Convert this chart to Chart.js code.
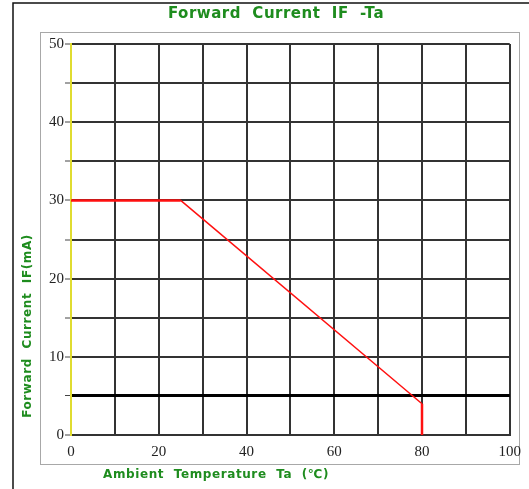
<!DOCTYPE html>
<html>
<head>
<meta charset="utf-8">
<script src="https://cdn.jsdelivr.net/npm/chart.js@4"></script>
<style>
  html, body { margin: 0; padding: 0; background: #fff; }
  #wrap { position: relative; width: 529px; height: 489px; }
</style>
</head>
<body>
<div id="wrap"><canvas id="ifta" width="529" height="489"></canvas></div>
<script>
// ── Data: derating curve IF vs Ta ─────────────────────────────────────
const tempTa    = [0, 25, 80, 80];     // °C
const currentIF = [30, 30, 4, 0];      // mA
const xTicks    = [0, 20, 40, 60, 80, 100];
const yTicks    = [0, 10, 20, 30, 40, 50];

const chartTitle = 'Forward  Current  IF  -Ta';
const xTitle     = 'Ambient  Temperature  Ta  (℃)';
const yTitle     = 'Forward  Current  IF(mA)';

const GREEN = '#1e8c1e';
const GRID  = '#333';

// ── Frame + titles drawn around the plot ──────────────────────────────
const framePlugin = {
  id: 'frame',
  beforeDraw(chart) {
    const c = chart.ctx;
    c.save();
    c.fillStyle = '#fff';
    c.fillRect(0, 0, chart.width, chart.height);
    // outer cropped frame (left + top)
    c.strokeStyle = '#111';
    c.lineWidth = 1.5;
    c.beginPath();
    c.moveTo(13, chart.height);
    c.lineTo(13, 3);
    c.lineTo(chart.width, 3);
    c.stroke();
    // grey panel
    c.strokeStyle = '#a8a8a8';
    c.lineWidth = 1;
    c.strokeRect(40.5, 32.5, 479, 432);
    c.restore();
  },
  afterDraw(chart) {
    const c = chart.ctx;
    c.save();
    c.fillStyle = GREEN;
    c.textBaseline = 'middle';
    c.textAlign = 'center';

    c.font = 'bold 15px "DejaVu Sans"';
    c.letterSpacing = '0.5px';
    c.fillText(chartTitle, 276, 14);

    c.font = 'bold 12px "DejaVu Sans"';
    c.letterSpacing = '0.6px';
    c.fillText(xTitle, 216, 475);

    c.translate(28, 326);
    c.rotate(-Math.PI / 2);
    c.fillText(yTitle, 0, 0);
    c.restore();
  }
};

new Chart(document.getElementById('ifta'), {
  type: 'line',
  data: {
    datasets: [{
      data: tempTa.map((t, i) => ({ x: t, y: currentIF[i] })),
      borderColor: '#ff1010',
      borderWidth: 2.5,
      pointRadius: 0,
      tension: 0,
      fill: false,
      segment: {
        borderWidth: s => s.p0DataIndex === 1 ? 1.5 : 2.5,
      },
    }],
  },
  options: {
    responsive: false,
    animation: false,
    layout: { padding: { left: 0, top: 44, right: 17, bottom: 0 } },
    plugins: {
      legend: { display: false },
      tooltip: { enabled: false },
      title: { display: false },
    },
    scales: {
      x: {
        type: 'linear',
        min: 0, max: 100,
        afterFit: s => { s.height = 54; },
        afterBuildTicks: s => {
          s.ticks = [0, 10, 20, 30, 40, 50, 60, 70, 80, 90, 100].map(v => ({ value: v }));
        },
        ticks: {
          padding: 8,
          color: '#222',
          font: { family: '"Liberation Serif"', size: 15 },
          maxRotation: 0,
          autoSkip: false,
          callback: v => xTicks.includes(v) ? String(v) : '',
        },
        grid: {
          drawTicks: false,
          color: c => c.tick && c.tick.value === 0 ? '#e0dc30' : GRID,
          lineWidth: 2,
        },
        border: { display: true, color: GRID, width: 2 },
      },
      y: {
        type: 'linear',
        min: 0, max: 50,
        afterFit: s => { s.width = 71; },
        afterBuildTicks: s => {
          s.ticks = [0, 5, 10, 15, 20, 25, 30, 35, 40, 45, 50].map(v => ({ value: v }));
        },
        ticks: {
          padding: 1,
          color: '#222',
          font: { family: '"Liberation Serif"', size: 15 },
          autoSkip: false,
          callback: v => yTicks.includes(v) ? String(v) : '',
        },
        grid: {
          drawTicks: true,
          tickLength: 6,
          tickColor: '#444',
          tickWidth: 1,
          color: c => c.tick && c.tick.value === 5 ? '#000' : GRID,
          lineWidth: c => c.tick && c.tick.value === 5 ? 3 : 2,
        },
        border: { display: true, color: '#e0dc30', width: 2 },
      },
    },
  },
  plugins: [framePlugin],
});
</script>
</body>
</html>
